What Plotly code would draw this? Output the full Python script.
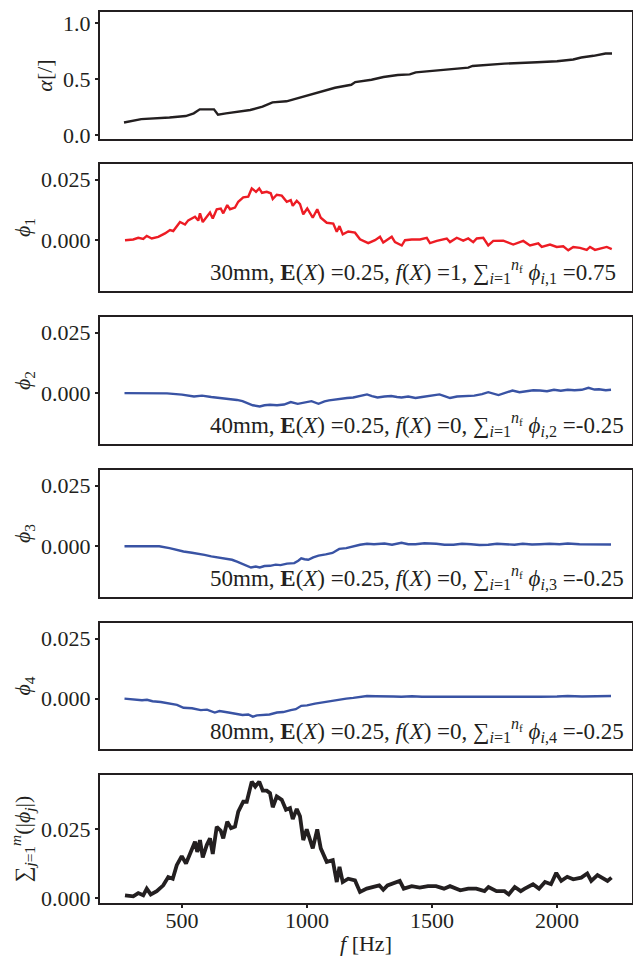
import plotly.graph_objects as go

# ---------------- data ----------------
f_alpha = [268, 337, 450, 515, 547, 571, 628, 644, 676, 773, 822, 862, 918, 999, 1064, 1112,
           1177, 1193, 1258, 1306, 1363, 1411, 1435, 1548, 1645, 1662, 1790, 1920, 2000, 2065,
           2097, 2146, 2194, 2220]
alpha = [0.111, 0.142, 0.156, 0.169, 0.193, 0.229, 0.229, 0.181, 0.193, 0.223, 0.253, 0.292,
         0.301, 0.352, 0.391, 0.422, 0.449, 0.473, 0.494, 0.518, 0.536, 0.542, 0.560, 0.584,
         0.602, 0.617, 0.638, 0.650, 0.659, 0.675, 0.693, 0.708, 0.729, 0.729]

f_phi1 = [272, 305, 325, 345, 359, 379, 405, 432, 452, 465, 492, 512, 525, 552, 565, 572, 583,
          599, 612, 623, 639, 655, 665, 681, 692, 712, 725, 745, 765, 779, 796, 809, 820, 839,
          855, 863, 879, 899, 919, 935, 943, 959, 972, 985, 1001, 1023, 1041, 1055, 1079, 1105,
          1119, 1130, 1143, 1165, 1192, 1212, 1245, 1272, 1292, 1305, 1339, 1352, 1379, 1392,
          1419, 1452, 1479, 1492, 1519, 1559, 1572, 1599, 1625, 1645, 1665, 1679, 1705, 1725,
          1745, 1785, 1825, 1865, 1892, 1925, 1939, 1972, 1999, 2025, 2045, 2065, 2092, 2119,
          2132, 2152, 2185, 2199, 2219]
phi1 = [0.0000, 0.0003, 0.0010, 0.0005, 0.0018, 0.0007, 0.0014, 0.0028, 0.0042, 0.0038, 0.0075,
        0.0065, 0.0082, 0.0097, 0.0081, 0.0111, 0.0075, 0.0094, 0.0114, 0.0090, 0.0128, 0.0131,
        0.0111, 0.0145, 0.0128, 0.0135, 0.0159, 0.0177, 0.0180, 0.0214, 0.0200, 0.0214, 0.0196,
        0.0200, 0.0194, 0.0170, 0.0188, 0.0184, 0.0159, 0.0166, 0.0142, 0.0163, 0.0149, 0.0107,
        0.0131, 0.0093, 0.0128, 0.0093, 0.0072, 0.0069, 0.0035, 0.0058, 0.0024, 0.0036, 0.0031,
        0.0004, -0.0012, 0.0000, 0.0014, -0.0010, 0.0014, -0.0008, -0.0022, 0.0000, 0.0003,
        0.0003, 0.0010, -0.0012, -0.0003, 0.0007, -0.0008, 0.0010, -0.0002, 0.0007, -0.0008,
        0.0007, 0.0010, -0.0022, -0.0003, -0.0002, -0.0018, -0.0003, -0.0022, -0.0013, -0.0028,
        -0.0018, -0.0028, -0.0025, -0.0042, -0.0028, -0.0032, -0.0040, -0.0028, -0.0040,
        -0.0032, -0.0028, -0.0037]

f_phi2 = [270, 300, 340, 370, 409, 440, 464, 500, 548, 580, 617, 650, 686, 720, 742, 760, 783,
          811, 830, 852, 880, 908, 935, 963, 990, 1018, 1046, 1070, 1088, 1110, 1129, 1160, 1185,
          1215, 1240, 1260, 1282, 1310, 1337, 1360, 1378, 1405, 1434, 1460, 1489, 1530, 1550,
          1572, 1600, 1628, 1669, 1700, 1725, 1766, 1795, 1822, 1850, 1877, 1905, 1932, 1960,
          1988, 2015, 2043, 2070, 2099, 2126, 2150, 2168, 2195, 2216]
phi2 = [0.0000, 0.0000, 0.0001, -0.0001, 0.0001, -0.0001, -0.0003, -0.0006, -0.0014, -0.0010,
        -0.0016, -0.0020, -0.0023, -0.0028, -0.0033, -0.0040, -0.0050, -0.0055, -0.0050,
        -0.0048, -0.0050, -0.0047, -0.0037, -0.0044, -0.0040, -0.0033, -0.0044, -0.0034,
        -0.0030, -0.0026, -0.0023, -0.0020, -0.0018, -0.0012, -0.0005, -0.0012, -0.0018,
        -0.0014, -0.0012, -0.0016, -0.0018, -0.0014, -0.0020, -0.0016, -0.0012, -0.0005,
        -0.0012, -0.0020, -0.0014, -0.0012, -0.0010, -0.0004, 0.0004, -0.0008, 0.0002, 0.0011,
        0.0004, 0.0007, 0.0012, 0.0011, 0.0008, 0.0014, 0.0010, 0.0014, 0.0012, 0.0014, 0.0022,
        0.0015, 0.0016, 0.0012, 0.0014]

f_phi3 = [270, 330, 409, 450, 506, 540, 561, 590, 617, 640, 658, 680, 700, 720, 742, 760, 776,
          795, 811, 830, 852, 875, 894, 920, 949, 965, 977, 990, 1005, 1025, 1046, 1075, 1102,
          1115, 1129, 1157, 1185, 1212, 1240, 1268, 1310, 1340, 1378, 1405, 1434, 1470, 1517,
          1550, 1586, 1620, 1656, 1690, 1725, 1760, 1794, 1830, 1863, 1900, 1932, 1970, 2010,
          2043, 2090, 2140, 2180, 2216]
phi3 = [0.0000, -0.0001, 0.0000, -0.0008, -0.0022, -0.0027, -0.0032, -0.0036, -0.0042, -0.0046,
        -0.0050, -0.0052, -0.0056, -0.0064, -0.0074, -0.0082, -0.0088, -0.0084, -0.0088,
        -0.0082, -0.0081, -0.0076, -0.0078, -0.0072, -0.0070, -0.0060, -0.0050, -0.0054,
        -0.0056, -0.0046, -0.0039, -0.0034, -0.0028, -0.0020, -0.0011, -0.0008, 0.0000, 0.0006,
        0.0010, 0.0008, 0.0011, 0.0006, 0.0014, 0.0008, 0.0008, 0.0012, 0.0010, 0.0006, 0.0006,
        0.0010, 0.0008, 0.0005, 0.0006, 0.0010, 0.0008, 0.0006, 0.0010, 0.0007, 0.0008, 0.0010,
        0.0008, 0.0011, 0.0008, 0.0008, 0.0010, 0.0007]

f_phi4 = [270, 300, 340, 360, 382, 415, 450, 480, 506, 540, 575, 600, 631, 650, 686, 710, 742,
          765, 783, 800, 825, 850, 880, 905, 935, 955, 977, 1000, 1032, 1050, 1074, 1100, 1129,
          1157, 1185, 1210, 1240, 1275, 1310, 1345, 1378, 1420, 1460, 1517, 1580, 1656, 1720,
          1794, 1860, 1932, 2000, 2043, 2100, 2160, 2216]
phi4 = [0.0000, -0.0002, -0.0007, -0.0005, -0.0011, -0.0014, -0.0021, -0.0026, -0.0038, -0.0040,
        -0.0048, -0.0046, -0.0058, -0.0052, -0.0058, -0.0062, -0.0068, -0.0066, -0.0075,
        -0.0070, -0.0068, -0.0066, -0.0058, -0.0056, -0.0048, -0.0044, -0.0030, -0.0028,
        -0.0021, -0.0018, -0.0011, -0.0008, -0.0003, 0.0000, 0.0003, 0.0006, 0.0011, 0.0010,
        0.0011, 0.0009, 0.0008, 0.0010, 0.0008, 0.0008, 0.0006, 0.0005, 0.0006, 0.0007, 0.0006,
        0.0008, 0.0009, 0.0011, 0.0009, 0.0010, 0.0011]

f_sum = [272, 305, 325, 345, 359, 375, 399, 425, 445, 463, 479, 499, 516, 529, 552, 561, 572,
         583, 599, 612, 623, 639, 655, 665, 681, 696, 712, 725, 745, 759, 779, 793, 809, 823,
         839, 852, 863, 879, 899, 916, 932, 943, 959, 972, 985, 999, 1023, 1041, 1055, 1079,
         1103, 1119, 1130, 1143, 1165, 1192, 1212, 1239, 1265, 1289, 1305, 1322, 1371, 1387,
         1419, 1451, 1484, 1516, 1548, 1572, 1613, 1645, 1677, 1710, 1726, 1758, 1790, 1807,
         1831, 1855, 1871, 1904, 1928, 1952, 1976, 1997, 2017, 2041, 2065, 2097, 2121, 2137,
         2162, 2186, 2202, 2218]
phi_sum = [0.0010, 0.0006, 0.0018, 0.0010, 0.0034, 0.0013, 0.0025, 0.0046, 0.0076, 0.0070,
           0.0119, 0.0152, 0.0125, 0.0156, 0.0204, 0.0167, 0.0210, 0.0147, 0.0192, 0.0216,
           0.0160, 0.0258, 0.0244, 0.0216, 0.0277, 0.0253, 0.0259, 0.0313, 0.0349, 0.0349,
           0.0422, 0.0404, 0.0422, 0.0389, 0.0389, 0.0380, 0.0329, 0.0368, 0.0356, 0.0320,
           0.0326, 0.0286, 0.0323, 0.0296, 0.0210, 0.0249, 0.0180, 0.0249, 0.0180, 0.0131,
           0.0137, 0.0058, 0.0113, 0.0058, 0.0070, 0.0064, 0.0022, 0.0034, 0.0040, 0.0046,
           0.0030, 0.0046, 0.0062, 0.0034, 0.0043, 0.0038, 0.0043, 0.0043, 0.0034, 0.0043,
           0.0028, 0.0034, 0.0034, 0.0025, 0.0040, 0.0025, 0.0025, 0.0013, 0.0040, 0.0025,
           0.0034, 0.0050, 0.0034, 0.0058, 0.0050, 0.0091, 0.0062, 0.0077, 0.0068, 0.0074,
           0.0089, 0.0062, 0.0083, 0.0071, 0.0062, 0.0074]

x_ticks = [500, 1000, 1500, 2000]
y_titles = ["<i>α</i>[/]", "<i>ϕ</i><sub>1</sub>", "<i>ϕ</i><sub>2</sub>", "<i>ϕ</i><sub>3</sub>",
            "<i>ϕ</i><sub>4</sub>",
            "∑<sub><i>j</i>=1</sub><sup><i>m</i></sup>(|<i>ϕ</i><sub><i>j</i></sub>|)"]
notes = [
    "30mm, <b>E</b>(<i>X</i>) =0.25, <i>f</i>(<i>X</i>) =1, ∑<sub><i>i</i>=1</sub><sup><i>n</i><sub>f</sub></sup> <i>ϕ</i><sub><i>i</i>,1</sub> =0.75",
    "40mm, <b>E</b>(<i>X</i>) =0.25, <i>f</i>(<i>X</i>) =0, ∑<sub><i>i</i>=1</sub><sup><i>n</i><sub>f</sub></sup> <i>ϕ</i><sub><i>i</i>,2</sub> =-0.25",
    "50mm, <b>E</b>(<i>X</i>) =0.25, <i>f</i>(<i>X</i>) =0, ∑<sub><i>i</i>=1</sub><sup><i>n</i><sub>f</sub></sup> <i>ϕ</i><sub><i>i</i>,3</sub> =-0.25",
    "80mm, <b>E</b>(<i>X</i>) =0.25, <i>f</i>(<i>X</i>) =0, ∑<sub><i>i</i>=1</sub><sup><i>n</i><sub>f</sub></sup> <i>ϕ</i><sub><i>i</i>,4</sub> =-0.25",
]

# ---------------- styling ----------------
BLACK = "#231f20"
RED = "#ed1c24"
BLUE = "#3953a4"
FONT = "Liberation Serif"
TICK_SIZE = 22
TITLE_SIZE = 22
NOTE_SIZE = 23

series = [(f_alpha, alpha, BLACK, 2.4), (f_phi1, phi1, RED, 2.4), (f_phi2, phi2, BLUE, 2.4),
          (f_phi3, phi3, BLUE, 2.4), (f_phi4, phi4, BLUE, 2.4), (f_sum, phi_sum, BLACK, 3.8)]

domains = [[0.8575, 1.0], [0.6869, 0.8294], [0.5152, 0.6577], [0.3434, 0.4860],
           [0.1728, 0.3143], [0.0, 0.1437]]
y_ranges = [[-0.036, 1.1], [-0.021, 0.0315], [-0.021, 0.0315], [-0.021, 0.0315],
            [-0.021, 0.0315], [-0.0018, 0.0446]]
y_tickvals = [[0.0, 0.5, 1.0], [0.0, 0.025], [0.0, 0.025], [0.0, 0.025], [0.0, 0.025],
              [0.0, 0.025]]
y_fmt = [".1f", ".3f", ".3f", ".3f", ".3f", ".3f"]
x_range = [172, 2300]

fig = go.Figure()
layout = dict(
    width=633, height=956,
    margin=dict(l=100, r=1, t=12, b=53),
    paper_bgcolor="white", plot_bgcolor="white",
    showlegend=False,
    font=dict(family=FONT, size=TICK_SIZE, color=BLACK),
)

for i, (fx, fy, col, lw) in enumerate(series):
    n = "" if i == 0 else str(i + 1)
    fig.add_trace(go.Scatter(x=fx, y=fy, mode="lines", line=dict(color=col, width=lw),
                             xaxis="x" + n, yaxis="y" + n, hoverinfo="skip"))
    last = i == len(series) - 1
    xa = dict(
        domain=[0, 1], range=x_range, anchor="y" + n, automargin=False,
        showline=True, mirror=True, linecolor=BLACK, linewidth=2,
        showgrid=False, zeroline=False,
        ticks="outside" if last else "", ticklen=3, tickwidth=1.5, tickcolor=BLACK,
        tickvals=x_ticks, showticklabels=last,
        tickfont=dict(family=FONT, size=TICK_SIZE, color=BLACK),
    )
    if last:
        xa["ticklabelstandoff"] = -6
        xa["title"] = dict(text="<i>f</i> [Hz]", standoff=10,
                           font=dict(family=FONT, size=TITLE_SIZE, color=BLACK))
    if i > 0:
        xa["matches"] = "x"
    layout["xaxis" + n] = xa
    layout["yaxis" + n] = dict(
        domain=domains[i], range=y_ranges[i], anchor="x" + n, automargin=False,
        showline=True, mirror=True, linecolor=BLACK, linewidth=2,
        showgrid=False, zeroline=False,
        ticks="outside", ticklen=3, tickwidth=1.5, tickcolor=BLACK,
        tickvals=y_tickvals[i], tickformat=y_fmt[i],
        tickfont=dict(family=FONT, size=TICK_SIZE, color=BLACK),
        title=dict(text=y_titles[i], standoff=4,
                   font=dict(family=FONT, size=TITLE_SIZE, color=BLACK)),
    )

annotations = []
for k, txt in enumerate(notes):
    n = str(k + 2)
    annotations.append(dict(
        text=txt, xref="paper", yref="y" + n + " domain",
        x=(208 - 100) / 532, y=0.15, xanchor="left", yanchor="middle",
        showarrow=False, font=dict(family=FONT, size=NOTE_SIZE, color=BLACK),
    ))
layout["annotations"] = annotations

fig.update_layout(**layout)
# remove the browser's default 8px body margin so the figure sits at the page origin
fig.write_html("out.html", config={"displayModeBar": False},
               post_script="document.body.style.margin='0';")
